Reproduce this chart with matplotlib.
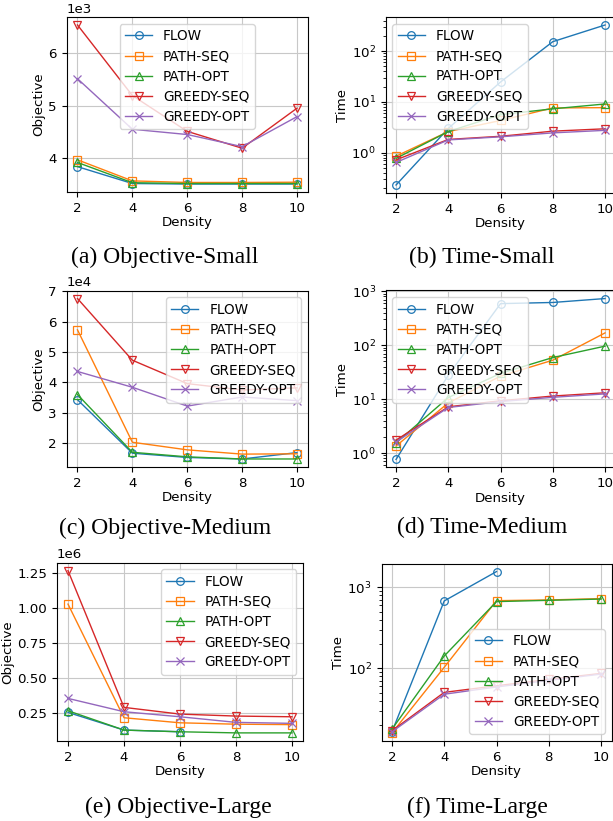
import matplotlib
matplotlib.use("Agg")
import matplotlib.pyplot as plt

density = [2, 4, 6, 8, 10]
methods = ["FLOW", "PATH-SEQ", "PATH-OPT", "GREEDY-SEQ", "GREEDY-OPT"]

# objective values (a), (c), (e)
obj_small = {
    "FLOW": [3840, 3520, 3510, 3510, 3510],
    "PATH-SEQ": [3970, 3570, 3540, 3540, 3545],
    "PATH-OPT": [3920, 3535, 3520, 3520, 3520],
    "GREEDY-SEQ": [6530, 5190, 4510, 4190, 4950],
    "GREEDY-OPT": [5510, 4550, 4450, 4220, 4790],
}
obj_medium = {
    "FLOW": [34300, 16700, 15300, 14800, 16900],
    "PATH-SEQ": [57300, 20300, 17800, 16400, 16500],
    "PATH-OPT": [36000, 17000, 15500, 14800, 14800],
    "GREEDY-SEQ": [67600, 47300, 39600, 37500, 38200],
    "GREEDY-OPT": [43600, 38400, 32200, 35200, 34000],
}
obj_large = {
    "FLOW": [257000, 131000, 119000],
    "PATH-SEQ": [1030000, 219000, 183000, 173000, 170000],
    "PATH-OPT": [269000, 131000, 119000, 111000, 111000],
    "GREEDY-SEQ": [1269000, 293000, 245000, 231000, 226000],
    "GREEDY-OPT": [357000, 262000, 226000, 186000, 179000],
}

# running time (b), (d), (f)
time_small = {
    "FLOW": [0.23, 3.0, 24.7, 154, 328],
    "PATH-SEQ": [0.85, 2.6, 4.3, 7.6, 7.7],
    "PATH-OPT": [0.77, 2.6, 5.6, 7.3, 9.1],
    "GREEDY-SEQ": [0.72, 1.82, 2.1, 2.65, 2.95],
    "GREEDY-OPT": [0.64, 1.78, 2.05, 2.45, 2.75],
}
time_medium = {
    "FLOW": [0.76, 27.8, 590, 620, 733],
    "PATH-SEQ": [1.35, 8.5, 26.7, 52.7, 169],
    "PATH-OPT": [1.55, 10.7, 30, 59, 96],
    "GREEDY-SEQ": [1.74, 7.2, 9.3, 11.4, 13.1],
    "GREEDY-OPT": [1.6, 7.0, 9.0, 10.8, 12.5],
}
time_large = {
    "FLOW": [16.5, 678, 1560],
    "PATH-SEQ": [16.0, 103, 683, 697, 724],
    "PATH-OPT": [17.8, 142, 665, 690, 715],
    "GREEDY-SEQ": [17.0, 50.6, 61, 73, 86.7],
    "GREEDY-OPT": [16.5, 48, 59, 71, 85],
}

colors = ["#1f77b4", "#ff7f0e", "#2ca02c", "#d62728", "#9467bd"]
markers = ["o", "s", "^", "v", "x"]

W, H = 613, 821
FS = 9.6

plt.rcParams["font.family"] = ["DejaVu Sans"]
fig = plt.figure(figsize=(W / 100, H / 100), dpi=100)


def add_axes_px(x0, x1, y0, y1):
    # pixel box (top-left origin) -> figure fraction
    return fig.add_axes([x0 / W, 1 - y1 / H, (x1 - x0) / W, (y1 - y0) / H])


def draw(ax, data, ylabel, log=False, loc="best"):
    for m, c, mk in zip(methods, colors, markers):
        ys = data[m]
        ax.plot(density[:len(ys)], ys, color=c, marker=mk, markersize=5.5,
                markerfacecolor="none", linewidth=1.0, markeredgewidth=0.9, label=m)
    if log:
        ax.set_yscale("log")
    else:
        ax.ticklabel_format(axis="y", style="sci", scilimits=(0, 0))
        ax.yaxis.get_offset_text().set_fontsize(FS)
    ax.set_xticks(density)
    ax.grid(True, color="#c8c8c8", linewidth=0.8)
    ax.set_axisbelow(True)
    ax.tick_params(labelsize=FS)
    ax.set_xlabel("Density", fontsize=FS, labelpad=1)
    ax.set_ylabel(ylabel, fontsize=FS, labelpad=2)
    ax.legend(loc=loc, fontsize=FS + 0.2, handlelength=2.0, borderpad=0.4, labelspacing=0.45)


ax_a = add_axes_px(66.5, 308, 17, 192)
draw(ax_a, obj_small, "Objective", loc="upper center")
ax_b = add_axes_px(385.6, 615.5, 17, 193)
draw(ax_b, time_small, "Time", log=True, loc="upper left")
ax_c = add_axes_px(66.5, 308, 290.5, 467)
draw(ax_c, obj_medium, "Objective", loc="upper right")
ax_d = add_axes_px(385.6, 615.5, 290.5, 467.5)
draw(ax_d, time_medium, "Time", log=True, loc="upper left")
ax_e = add_axes_px(56.8, 303.2, 562.5, 741)
draw(ax_e, obj_large, "Objective", loc="upper right")
ax_f = add_axes_px(381.5, 611.5, 563.5, 741)
draw(ax_f, time_large, "Time", log=True, loc="lower right")

captions = [
    (165, 257, "(a) Objective-Small"),
    (482, 257, "(b) Time-Small"),
    (165, 528, "(c) Objective-Medium"),
    (482, 527, "(d) Time-Medium"),
    (178, 807, "(e) Objective-Large"),
    (477, 807, "(f) Time-Large"),
]
for cx, cy, txt in captions:
    fig.text(cx / W, 1 - cy / H, txt, ha="center", va="center",
             fontsize=17, family="Liberation Serif")

fig.savefig("out.png", dpi=100)
